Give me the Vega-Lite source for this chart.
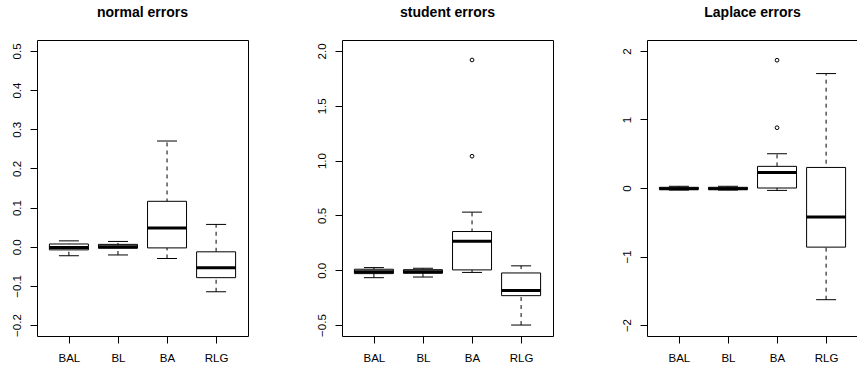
{
  "$schema": "https://vega.github.io/schema/vega-lite/v6.json",
  "padding": {"left": 10, "top": 5, "right": 0, "bottom": 0},
  "datasets": {
    "boxes": [
      {"dist": "normal", "method": "BAL", "lower": -0.023, "q1": -0.008, "median": -0.002, "q3": 0.007, "upper": 0.015},
      {"dist": "normal", "method": "BL", "lower": -0.021, "q1": -0.004, "median": 0.0, "q3": 0.006, "upper": 0.0135},
      {"dist": "normal", "method": "BA", "lower": -0.03, "q1": -0.003, "median": 0.048, "q3": 0.116, "upper": 0.27},
      {"dist": "normal", "method": "RLG", "lower": -0.115, "q1": -0.079, "median": -0.054, "q3": -0.013, "upper": 0.057},
      {"dist": "student", "method": "BAL", "lower": -0.068, "q1": -0.031, "median": -0.013, "q3": 0.009, "upper": 0.024},
      {"dist": "student", "method": "BL", "lower": -0.062, "q1": -0.028, "median": -0.015, "q3": 0.005, "upper": 0.018},
      {"dist": "student", "method": "BA", "lower": -0.02, "q1": 0.003, "median": 0.264, "q3": 0.353, "upper": 0.53},
      {"dist": "student", "method": "RLG", "lower": -0.5, "q1": -0.232, "median": -0.186, "q3": -0.025, "upper": 0.04},
      {"dist": "Laplace", "method": "BAL", "lower": -0.03, "q1": -0.02, "median": -0.01, "q3": 0.01, "upper": 0.025},
      {"dist": "Laplace", "method": "BL", "lower": -0.03, "q1": -0.02, "median": -0.01, "q3": 0.01, "upper": 0.025},
      {"dist": "Laplace", "method": "BA", "lower": -0.035, "q1": 0.0, "median": 0.228, "q3": 0.316, "upper": 0.5},
      {"dist": "Laplace", "method": "RLG", "lower": -1.63, "q1": -0.863, "median": -0.424, "q3": 0.3, "upper": 1.67}
    ],
    "outliers": [
      {"dist": "student", "method": "BA", "value": 1.918},
      {"dist": "student", "method": "BA", "value": 1.04},
      {"dist": "Laplace", "method": "BA", "value": 1.865},
      {"dist": "Laplace", "method": "BA", "value": 0.88}
    ]
  },
  "hconcat": [
    {
      "width": 211, "height": 296,
      "title": "normal errors",
      "layer": [
        {"data": {"name": "boxes"}, "transform": [{"filter": "datum.dist === 'normal'"}],
         "mark": {"type": "rule", "strokeDash": [4, 4], "color": "black", "strokeWidth": 1, "opacity": 1},
         "encoding": {
           "x": {"field": "method", "type": "nominal", "sort": ["BAL", "BL", "BA", "RLG"], "scale": {"type": "point", "padding": 0.65}, "axis": {"title": null}},
           "y": {"field": "lower", "type": "quantitative", "scale": {"domain": [-0.228, 0.528], "nice": false, "zero": false}, "axis": {"title": null, "values": [-0.2, -0.1, 0, 0.1, 0.2, 0.3, 0.4, 0.5], "format": ".1f"}},
           "y2": {"field": "upper"}}},
        {"data": {"name": "boxes"}, "transform": [{"filter": "datum.dist === 'normal'"}],
         "mark": {"type": "bar", "size": 39, "fill": "white", "stroke": "black", "strokeWidth": 1, "opacity": 1},
         "encoding": {
           "x": {"field": "method", "type": "nominal", "sort": ["BAL", "BL", "BA", "RLG"]},
           "y": {"field": "q1", "type": "quantitative"},
           "y2": {"field": "q3"}}},
        {"data": {"name": "boxes"}, "transform": [{"filter": "datum.dist === 'normal'"}],
         "mark": {"type": "tick", "size": 20, "thickness": 1, "color": "black", "opacity": 1},
         "encoding": {
           "x": {"field": "method", "type": "nominal", "sort": ["BAL", "BL", "BA", "RLG"]},
           "y": {"field": "upper", "type": "quantitative"}}},
        {"data": {"name": "boxes"}, "transform": [{"filter": "datum.dist === 'normal'"}],
         "mark": {"type": "tick", "size": 20, "thickness": 1, "color": "black", "opacity": 1},
         "encoding": {
           "x": {"field": "method", "type": "nominal", "sort": ["BAL", "BL", "BA", "RLG"]},
           "y": {"field": "lower", "type": "quantitative"}}},
        {"data": {"name": "boxes"}, "transform": [{"filter": "datum.dist === 'normal'"}],
         "mark": {"type": "tick", "size": 39, "thickness": 3, "color": "black", "opacity": 1},
         "encoding": {
           "x": {"field": "method", "type": "nominal", "sort": ["BAL", "BL", "BA", "RLG"]},
           "y": {"field": "median", "type": "quantitative"}}}
      ]
    },
    {
      "width": 211, "height": 296,
      "title": "student errors",
      "layer": [
        {"data": {"name": "boxes"}, "transform": [{"filter": "datum.dist === 'student'"}],
         "mark": {"type": "rule", "strokeDash": [4, 4], "color": "black", "strokeWidth": 1, "opacity": 1},
         "encoding": {
           "x": {"field": "method", "type": "nominal", "sort": ["BAL", "BL", "BA", "RLG"], "scale": {"type": "point", "padding": 0.65}, "axis": {"title": null}},
           "y": {"field": "lower", "type": "quantitative", "scale": {"domain": [-0.6, 2.1], "nice": false, "zero": false}, "axis": {"title": null, "values": [-0.5, 0, 0.5, 1, 1.5, 2], "format": ".1f"}},
           "y2": {"field": "upper"}}},
        {"data": {"name": "boxes"}, "transform": [{"filter": "datum.dist === 'student'"}],
         "mark": {"type": "bar", "size": 39, "fill": "white", "stroke": "black", "strokeWidth": 1, "opacity": 1},
         "encoding": {
           "x": {"field": "method", "type": "nominal", "sort": ["BAL", "BL", "BA", "RLG"]},
           "y": {"field": "q1", "type": "quantitative"},
           "y2": {"field": "q3"}}},
        {"data": {"name": "boxes"}, "transform": [{"filter": "datum.dist === 'student'"}],
         "mark": {"type": "tick", "size": 20, "thickness": 1, "color": "black", "opacity": 1},
         "encoding": {
           "x": {"field": "method", "type": "nominal", "sort": ["BAL", "BL", "BA", "RLG"]},
           "y": {"field": "upper", "type": "quantitative"}}},
        {"data": {"name": "boxes"}, "transform": [{"filter": "datum.dist === 'student'"}],
         "mark": {"type": "tick", "size": 20, "thickness": 1, "color": "black", "opacity": 1},
         "encoding": {
           "x": {"field": "method", "type": "nominal", "sort": ["BAL", "BL", "BA", "RLG"]},
           "y": {"field": "lower", "type": "quantitative"}}},
        {"data": {"name": "boxes"}, "transform": [{"filter": "datum.dist === 'student'"}],
         "mark": {"type": "tick", "size": 39, "thickness": 3, "color": "black", "opacity": 1},
         "encoding": {
           "x": {"field": "method", "type": "nominal", "sort": ["BAL", "BL", "BA", "RLG"]},
           "y": {"field": "median", "type": "quantitative"}}},
        {"data": {"name": "outliers"}, "transform": [{"filter": "datum.dist === 'student'"}],
         "mark": {"type": "point", "shape": "circle", "filled": false, "size": 14, "stroke": "black", "strokeWidth": 1, "opacity": 1},
         "encoding": {
           "x": {"field": "method", "type": "nominal", "sort": ["BAL", "BL", "BA", "RLG"]},
           "y": {"field": "value", "type": "quantitative"}}}
      ]
    },
    {
      "width": 211, "height": 296,
      "title": "Laplace errors",
      "layer": [
        {"data": {"name": "boxes"}, "transform": [{"filter": "datum.dist === 'Laplace'"}],
         "mark": {"type": "rule", "strokeDash": [4, 4], "color": "black", "strokeWidth": 1, "opacity": 1},
         "encoding": {
           "x": {"field": "method", "type": "nominal", "sort": ["BAL", "BL", "BA", "RLG"], "scale": {"type": "point", "padding": 0.65}, "axis": {"title": null}},
           "y": {"field": "lower", "type": "quantitative", "scale": {"domain": [-2.16, 2.16], "nice": false, "zero": false}, "axis": {"title": null, "values": [-2, -1, 0, 1, 2], "format": "d"}},
           "y2": {"field": "upper"}}},
        {"data": {"name": "boxes"}, "transform": [{"filter": "datum.dist === 'Laplace'"}],
         "mark": {"type": "bar", "size": 39, "fill": "white", "stroke": "black", "strokeWidth": 1, "opacity": 1},
         "encoding": {
           "x": {"field": "method", "type": "nominal", "sort": ["BAL", "BL", "BA", "RLG"]},
           "y": {"field": "q1", "type": "quantitative"},
           "y2": {"field": "q3"}}},
        {"data": {"name": "boxes"}, "transform": [{"filter": "datum.dist === 'Laplace'"}],
         "mark": {"type": "tick", "size": 20, "thickness": 1, "color": "black", "opacity": 1},
         "encoding": {
           "x": {"field": "method", "type": "nominal", "sort": ["BAL", "BL", "BA", "RLG"]},
           "y": {"field": "upper", "type": "quantitative"}}},
        {"data": {"name": "boxes"}, "transform": [{"filter": "datum.dist === 'Laplace'"}],
         "mark": {"type": "tick", "size": 20, "thickness": 1, "color": "black", "opacity": 1},
         "encoding": {
           "x": {"field": "method", "type": "nominal", "sort": ["BAL", "BL", "BA", "RLG"]},
           "y": {"field": "lower", "type": "quantitative"}}},
        {"data": {"name": "boxes"}, "transform": [{"filter": "datum.dist === 'Laplace'"}],
         "mark": {"type": "tick", "size": 39, "thickness": 3, "color": "black", "opacity": 1},
         "encoding": {
           "x": {"field": "method", "type": "nominal", "sort": ["BAL", "BL", "BA", "RLG"]},
           "y": {"field": "median", "type": "quantitative"}}},
        {"data": {"name": "outliers"}, "transform": [{"filter": "datum.dist === 'Laplace'"}],
         "mark": {"type": "point", "shape": "circle", "filled": false, "size": 14, "stroke": "black", "strokeWidth": 1, "opacity": 1},
         "encoding": {
           "x": {"field": "method", "type": "nominal", "sort": ["BAL", "BL", "BA", "RLG"]},
           "y": {"field": "value", "type": "quantitative"}}}
      ]
    }
  ],
  "spacing": 94,
  "bounds": "flush",
  "config": {
    "font": "Liberation Sans",
    "background": "white",
    "view": {"stroke": "black", "strokeWidth": 1},
    "axis": {"grid": false, "domain": false, "tickColor": "black", "tickSize": 7, "labelColor": "black", "labelFontSize": 11.5, "labelFont": "Liberation Sans"},
    "axisY": {"labelAngle": -90, "labelAlign": "center", "labelBaseline": "bottom", "labelPadding": 8},
    "axisX": {"labelAngle": 0, "labelPadding": 9},
    "title": {"fontSize": 14, "fontWeight": "bold", "font": "Liberation Sans", "offset": 20, "color": "black", "baseline": "alphabetic"}
  }
}
